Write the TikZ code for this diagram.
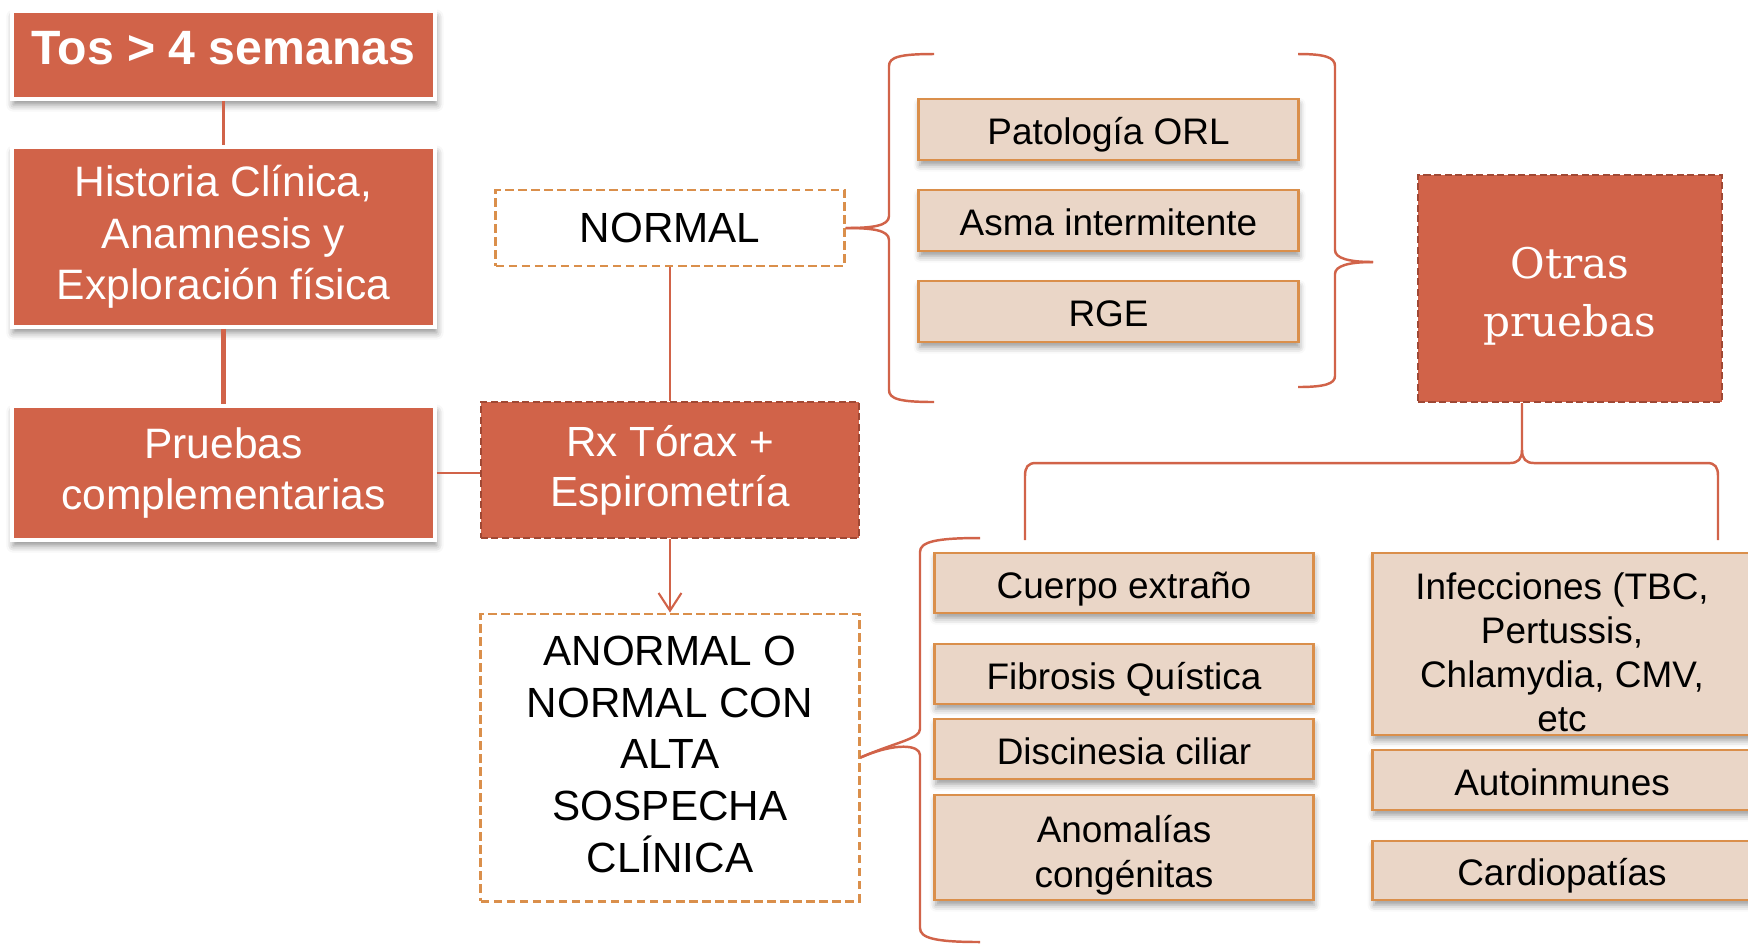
\documentclass[tikz,border=0pt]{standalone}
\usepackage{fontspec}
\setmainfont{Liberation Sans}
\newfontfamily\otrasfont{DejaVu Serif}
\definecolor{tos_red}{RGB}{209, 99, 73}
\definecolor{tos_rust}{RGB}{160, 72, 52}
\definecolor{tos_peach}{RGB}{234, 214, 199}
\definecolor{tos_orange}{RGB}{218, 143, 75}
\usetikzlibrary{arrows.meta, positioning, shadows.blur}
\newcommand{\lift}[1]{\rule{0pt}{#1}}
\newcommand{\sink}[1]{\rule[-#1]{0pt}{0pt}}

\begin{document}
\begin{tikzpicture}[
        x=0.01cm, y=-0.01cm,
        redbox/.style={draw=white, line width=1pt, fill=tos_red, text=white,
                    minimum width=4.23cm, align=center,
                    font=\fontsize{12.1}{14.6}\selectfont,
                    blur shadow={shadow xshift=0.4pt, shadow yshift=-1.6pt,
                                 shadow blur radius=2pt, shadow opacity=45}},
        rustbox/.style={draw=tos_rust, line width=0.6pt, dash pattern=on 2pt off 1pt,
                    fill=tos_red, text=white, align=center},
        dashbox/.style={draw=tos_orange, line width=0.8pt, dash pattern=on 2.4pt off 1.3pt,
                    fill=white, align=center, font=\fontsize{12}{14.2}\selectfont},
        peach/.style={draw=tos_orange, line width=0.8pt, fill=tos_peach,
                    minimum width=3.78cm, align=center,
                    font=\fontsize{10.5}{12.7}\selectfont,
                    blur shadow={shadow xshift=0.3pt, shadow yshift=-1.5pt,
                                 shadow blur radius=1.8pt, shadow opacity=40}},
        oneline/.style={text height=1.1em, text depth=0.22em, inner ysep=0pt},
        link/.style={draw=tos_red, line width=0.6pt},
        curly/.style={draw=tos_red, line width=0.7pt},
      ]
        \useasboundingbox (0,0) rectangle (1748,944);

        % left column
        \node[redbox, minimum height=0.88cm, font=\fontsize{13.7}{16}\selectfont\bfseries] (tos) at (223.5,55) {Tos > 4 semanas\sink{4pt}};
        \node[redbox, minimum height=1.80cm] (hist) at (223.5,237) {Historia Clínica,\\Anamnesis y\\Exploración física};
        \node[redbox, minimum height=1.34cm] (pruebas) at (223.5,473) {Pruebas\\complementarias};

        % middle column
        \node[dashbox, minimum width=3.48cm, minimum height=0.76cm] (normal) at (670,228) {NORMAL};
        \node[rustbox, minimum width=3.78cm, minimum height=1.36cm,
              font=\fontsize{12}{14.2}\selectfont] (rx) at (670,470) {Rx Tórax +\\Espirometría};
        \node[dashbox, minimum width=3.78cm, minimum height=2.87cm,
              font=\fontsize{12}{14.7}\selectfont] (anormal) at (670,757.5) {ANORMAL O\\NORMAL CON\\ALTA\\SOSPECHA\\CLÍNICA\sink{2pt}};

        % benign causes
        \node[peach, oneline, minimum width=3.79cm, minimum height=0.61cm] (pat) at (1108.5,129.5) {Patología ORL};
        \node[peach, oneline, minimum width=3.79cm, minimum height=0.61cm] (asma) at (1108.5,220.5) {Asma intermitente};
        \node[peach, oneline, minimum width=3.79cm, minimum height=0.61cm] (rge) at (1108.5,311.5) {RGE};

        \node[rustbox, minimum width=3.04cm, minimum height=2.27cm,
              font=\otrasfont\fontsize{12}{16.5}\selectfont] (otras) at (1570,288.5) {\lift{13.4pt}Otras\\pruebas};

        % specific causes
        \node[peach, oneline, minimum height=0.60cm] (cuerpo) at (1124,583) {Cuerpo extraño};
        \node[peach, oneline, minimum height=0.60cm] (fibrosis) at (1124,674) {Fibrosis Quística};
        \node[peach, oneline, minimum height=0.60cm] (discin) at (1124,749) {Discinesia ciliar};
        \node[peach, inner ysep=0pt, minimum height=1.05cm] (anomal) at (1124,847.5) {\lift{12.3pt}Anomalías\\congénitas};

        \node[peach, minimum height=1.82cm] (infec) at (1562,644) {};
        \node[inner sep=0pt, align=center, font=\fontsize{10.5}{12.5}\selectfont] (infectext) at (1562,652) {Infecciones (TBC,\\Pertussis,\\Chlamydia, CMV,\\etc};
        \node[peach, oneline, minimum height=0.60cm] (autoinm) at (1562,780) {Autoinmunes};
        \node[peach, oneline, minimum height=0.59cm] (cardio) at (1562,870.5) {Cardiopatías};

        % connectors
        \draw[link] (tos) -- (hist);
        \draw[link, line width=1.2pt] (hist) -- (pruebas);
        \draw[link] (pruebas.east) -- (pruebas.east -| rx.west);
        \draw[link] (normal) -- (rx);
        \draw[link, -{Straight Barb[length=5pt, width=6.5pt]}] (rx) -- (anormal);

        % braces
        \draw[curly] (normal.east) .. controls (872,228) and (889,226) .. (889,216) -- (889,66)
                     .. controls (889,57) and (900,54) .. (934,54);
        \draw[curly] (normal.east) .. controls (872,228) and (889,230) .. (889,240) -- (889,390)
                     .. controls (889,399) and (900,402) .. (934,402);

        \coordinate (otrastip) at (1373,262);
        \draw[curly] (1298,54) .. controls (1324,54) and (1335,57) .. (1335,66) -- (1335,250)
                     .. controls (1335,258) and (1348,262) .. (otrastip);
        \draw[curly] (otrastip) .. controls (1348,262) and (1335,266) .. (1335,274) -- (1335,376)
                     .. controls (1335,384) and (1324,387) .. (1298,387);

        \coordinate (splitpt) at (1522,450);
        \draw[curly] (splitpt |- otras.south) -- (splitpt) .. controls (1522,459) and (1518,463) .. (1510,463)
                     -- (1036,463) .. controls (1028,463) and (1025,467) .. (1025,476) -- (1025,540);
        \draw[curly] (splitpt) .. controls (1522,459) and (1526,463) .. (1534,463)
                     -- (1707,463) .. controls (1715,463) and (1718,467) .. (1718,476) -- (1718,540);

        \draw[curly] (anormal.east) .. controls (896,742) and (920,739) .. (920,729) -- (920,552)
                     .. controls (920,542) and (935,538) .. (980,538);
        \draw[curly] (anormal.east) .. controls (896,742) and (920,745) .. (920,755) -- (920,928)
                     .. controls (920,938) and (935,942) .. (980,942);
      \end{tikzpicture}
\end{document}
